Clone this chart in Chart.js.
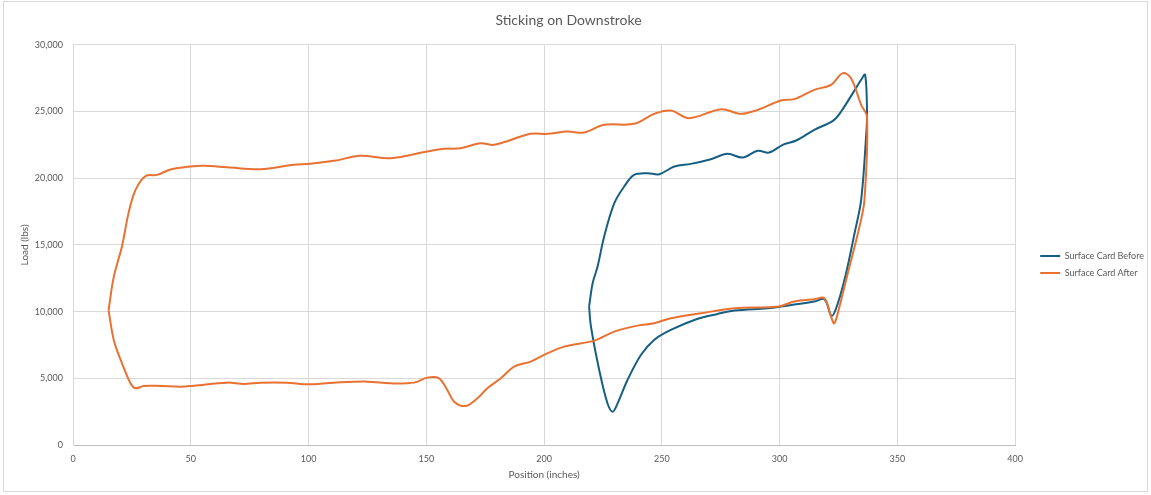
<!DOCTYPE html>
<html>
<head>
<meta charset="utf-8">
<script src="https://cdn.jsdelivr.net/npm/chart.js@4.4.1/dist/chart.umd.min.js"></script>
<style>
  html, body { margin: 0; padding: 0; background: #fff; }
  #wrap { position: relative; width: 1151px; height: 495px; }
  #frame { position: absolute; left: 3px; top: 1px; width: 1143px; height: 489px; border: 1px solid #d9d9d9; pointer-events: none; }
</style>
</head>
<body>
<div id="wrap">
  <canvas id="cardChart" width="1151" height="495"></canvas>
  <div id="frame"></div>
</div>
<script>
const TITLE = "Sticking on Downstroke";
const SERIES_NAMES = ["Surface Card Before", "Surface Card After"];
const X_LABEL = "Position (inches)";
const Y_LABEL = "Load (lbs)";
const X_TICKS = [0, 50, 100, 150, 200, 250, 300, 350, 400];
const Y_TICKS = [0, 5000, 10000, 15000, 20000, 25000, 30000];

// Surface card before (loop order)
const posBefore = [219.1, 220.6, 222.7, 225.5, 229.8, 234, 238.2, 244, 248.9, 255.3, 262.3, 270.8,
  277.9, 284.3, 290.7, 295.6, 301.3, 307, 314.7, 322.6, 326.1, 334.6, 336.3, 337.1, 336.7, 334.6,
  331.8, 328.2, 324.7, 322.1, 319, 314.7, 300.6, 294.9, 280.8, 273.7, 263.8, 253.8, 246.7, 241.1,
  235.4, 231.2, 229.1, 226.9, 223.4, 219.9, 219.1];
const loadBefore = [10375, 12125, 13375, 15625, 18125, 19375, 20250, 20375, 20300, 20875, 21075, 21425,
  21825, 21550, 22050, 21925, 22500, 22825, 23625, 24300, 25000, 27375, 27750, 24750, 23125, 18375,
  15875, 12875, 10625, 9675, 10925, 10750, 10375, 10250, 10075, 9825, 9375, 8625, 7875, 6750,
  4875, 3125, 2500, 3125, 5625, 8875, 10375];

// Surface card after
const posAfter = [15.1, 17.3, 20.8, 23.6, 26.5, 30.7, 35.7, 41.4, 49.9, 55.5, 65.4, 79.6, 93.8, 100.8,
  110.8, 122, 134.8, 150.4, 157.5, 164.6, 173.1, 178.8, 194.3, 201.4, 209.9, 217, 225.5, 238.2,
  246.7, 253.8, 261.6, 275.1, 283.6, 290.7, 300.6, 306.2, 314.7, 321.8, 326.8, 330.3, 334.6, 337.1,
  336, 333.9, 331.1, 328.2, 325.4, 323.2, 321.8, 319, 314.7, 306.2, 300.6, 294.9, 280.8, 266.6,
  253.8, 246.7, 239.7, 229.8, 221.3, 208.5, 200, 194.3, 187.3, 181.6, 175.9, 171.7, 166.7, 161.8,
  158.9, 155.4, 150.4, 144.8, 134.8, 125, 110.8, 99.4, 90.9, 79.6, 72.5, 65.4, 51.3, 45.6, 37.1,
  30, 26.5, 24.4, 20.8, 17.3, 15.1];
const loadAfter = [10100, 12600, 14900, 17400, 19100, 20150, 20250, 20650, 20875, 20925, 20825, 20675, 21000, 21075,
  21300, 21675, 21500, 22000, 22200, 22250, 22625, 22500, 23325, 23325, 23500, 23425, 24000, 24075,
  24825, 25075, 24500, 25175, 24825, 25125, 25825, 25925, 26625, 27000, 27875, 27500, 25500, 24575,
  18375, 16375, 14375, 12375, 10375, 9125, 9625, 11000, 10925, 10750, 10425, 10325, 10250, 9875,
  9500, 9125, 8950, 8500, 7825, 7375, 6750, 6250, 5875, 5000, 4250, 3500, 2925, 3250,
  4125, 5000, 5050, 4675, 4625, 4750, 4675, 4550, 4675, 4675, 4575, 4675, 4450, 4375, 4425,
  4425, 4250, 4625, 6125, 7875, 10100];

const toPoints = (xs, ys) => xs.map((x, i) => ({ x: x, y: ys[i] }));

const TEXT = "#595959";
const GRID = "#d9d9d9";
const FONT = "Lato, 'Open Sans', sans-serif";

// move the legend a little away from the plot, like the original
const legendShift = {
  id: "legendShift",
  afterLayout(chart) {
    const lg = chart.legend;
    const dx = 17, dy = 17;
    lg.left += dx; lg.right += dx;
    lg.top += dy; lg.bottom += dy;
  }
};

const ctx = document.getElementById("cardChart").getContext("2d");
new Chart(ctx, {
  type: "scatter",
  data: {
    datasets: [
      {
        label: SERIES_NAMES[0],
        data: toPoints(posBefore, loadBefore),
        borderColor: "#156082",
        backgroundColor: "#156082",
        borderWidth: 2,
        order: 1
      },
      {
        label: SERIES_NAMES[1],
        data: toPoints(posAfter, loadAfter),
        borderColor: "#E97132",
        backgroundColor: "#E97132",
        borderWidth: 2,
        order: 0
      }
    ]
  },
  options: {
    responsive: false,
    animation: false,
    showLine: true,
    elements: {
      line: { tension: 0.35, fill: false },
      point: { radius: 0, hoverRadius: 0 }
    },
    layout: { padding: { top: 0, right: 14, bottom: 0, left: 0 } },
    plugins: {
      title: {
        display: true,
        text: TITLE,
        color: TEXT,
        font: { family: FONT, size: 14, weight: "normal" },
        padding: { top: 12, bottom: 16 }
      },
      legend: {
        position: "right",
        labels: {
          color: TEXT,
          font: { family: FONT, size: 9 },
          usePointStyle: true,
          pointStyle: "line",
          pointStyleWidth: 20,
          padding: 8,
          sort: (a, b) => a.datasetIndex - b.datasetIndex
        }
      },
      tooltip: { enabled: false }
    },
    scales: {
      x: {
        type: "linear",
        min: X_TICKS[0],
        max: X_TICKS[X_TICKS.length - 1],
        afterBuildTicks: s => { s.ticks = X_TICKS.map(v => ({ value: v })); },
        afterFit: s => { s.height = 50; },
        grid: { color: GRID, drawTicks: false },
        border: { color: "#bfbfbf" },
        ticks: { color: TEXT, font: { family: FONT, size: 9 }, padding: 9 },
        title: {
          display: true, text: X_LABEL, color: TEXT,
          font: { family: FONT, size: 10 }, padding: { top: 0, bottom: 14 }
        }
      },
      y: {
        type: "linear",
        min: Y_TICKS[0],
        max: Y_TICKS[Y_TICKS.length - 1],
        afterBuildTicks: s => { s.ticks = Y_TICKS.map(v => ({ value: v })); },
        afterFit: s => { s.width = 73; },
        grid: { color: GRID, drawTicks: false },
        border: { color: GRID },
        ticks: {
          color: TEXT, font: { family: FONT, size: 9 }, padding: 10,
          callback: v => v.toLocaleString("en-US")
        },
        title: {
          display: true, text: Y_LABEL, color: TEXT,
          font: { family: FONT, size: 10 }, padding: { top: 19, bottom: 0 }
        }
      }
    }
  },
  plugins: [legendShift]
});
</script>
</body>
</html>
